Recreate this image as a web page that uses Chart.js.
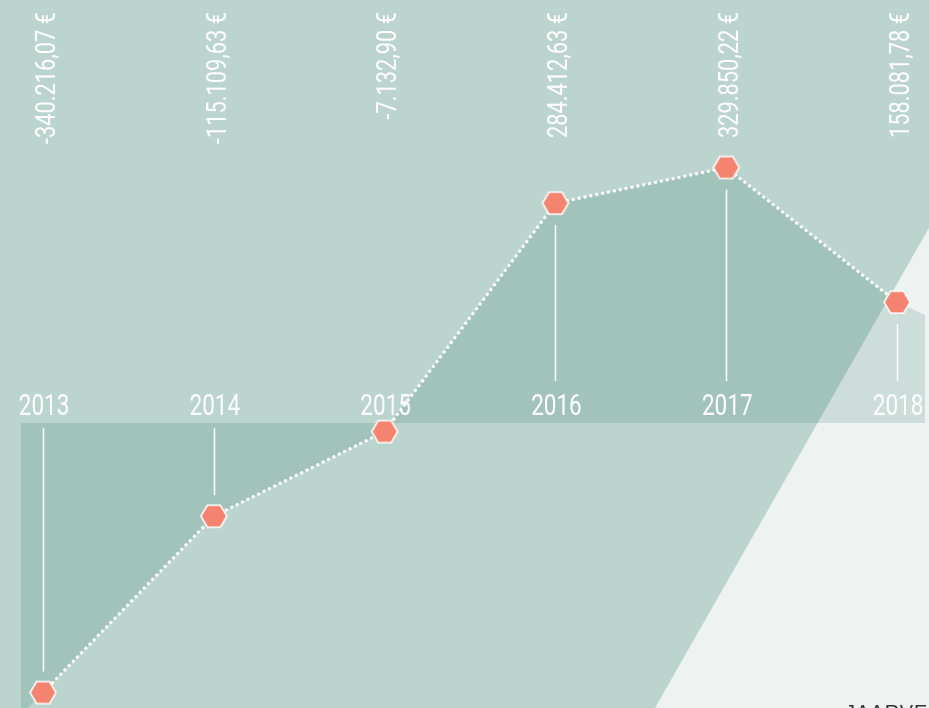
<!DOCTYPE html>
<html>
<head>
<meta charset="utf-8">
<script src="https://cdn.jsdelivr.net/npm/chart.js@4/dist/chart.umd.min.js"></script>
<style>
    html, body { margin: 0; padding: 0; overflow: hidden; background: #bbd4cd; }
    .wrapper { position: relative; width: 929px; height: 708px; overflow: hidden; }
    .footer { position: absolute; left: 845px; top: 701px; font: 20px "Liberation Sans", Arial, sans-serif; color: #333; letter-spacing: 1px; white-space: nowrap; }
</style>
</head>
<body>

<script>

    const years = [2013, 2014, 2015, 2016, 2017, 2018]
    const results = [-340216.07, -115109.63, -7132.90, 284412.63, 329850.22, 158081.78]
    const resultLabels = ["-340.216,07 €", "-115.109,63 €", "-7.132,90 €", "284.412,63 €", "329.850,22 €", "158.081,78 €"]

    // where the shaded area is cut off at the left and right edge
    const fillEdgeYears = [2012.871, 2018.164]
    const fillEdgeValues = [-368800, 141700]

    const salmon = '#f4846f'
    const labelFont = 'Roboto, "Liberation Sans", sans-serif'

    function hexagon() {
        const c = document.createElement('canvas')
        c.width = 30
        c.height = 26
        const g = c.getContext('2d')
        g.beginPath()
        g.moveTo(2, 13)
        g.lineTo(8.5, 2)
        g.lineTo(21.5, 2)
        g.lineTo(28, 13)
        g.lineTo(21.5, 24)
        g.lineTo(8.5, 24)
        g.closePath()
        g.fillStyle = salmon
        g.fill()
        g.strokeStyle = '#ffffff'
        g.lineWidth = 1.5
        g.stroke()
        return c
    }

    const fillData = [{x: fillEdgeYears[0], y: fillEdgeValues[0]}]
        .concat(years.map((y, i) => ({x: y, y: results[i]})))
        .concat([{x: fillEdgeYears[1], y: fillEdgeValues[1]}])

    // condensed text: the installed fonts have no narrow cut, so squeeze horizontally
    function narrowText(ctx, text, x, y, angle, align, squeeze) {
        ctx.save()
        ctx.translate(x, y)
        ctx.rotate(angle)
        ctx.scale(squeeze, 1)
        ctx.textAlign = align
        ctx.textBaseline = 'middle'
        ctx.fillText(text, 0, 0)
        ctx.restore()
    }

    const decor = {
        id: 'decor',
        beforeDatasetsDraw(chart) {
            const {ctx, width, height} = chart
            ctx.save()
            ctx.fillStyle = '#eef2f1'
            ctx.beginPath()
            ctx.moveTo(width * 0.705, height)
            ctx.lineTo(width * 1.14, 0)
            ctx.lineTo(width, 0)
            ctx.lineTo(width, height)
            ctx.closePath()
            ctx.fill()
            ctx.restore()
        },
        afterDatasetDraw(chart, args) {
            if (args.index !== 1) return
            const {ctx} = chart
            const x = chart.scales.x
            const y = chart.scales.y
            const zero = y.getPixelForValue(0)
            ctx.save()
            ctx.strokeStyle = '#ffffff'
            ctx.lineWidth = 1.5
            years.forEach((yr, i) => {
                const px = Math.round(x.getPixelForValue(yr)) + 0.5
                const py = y.getPixelForValue(results[i])
                let top, bottom
                if (results[i] >= 0) { top = py + 22; bottom = 381 }
                else { top = zero + 2; bottom = py - 21 }
                if (bottom > top) {
                    ctx.beginPath()
                    ctx.moveTo(px, top)
                    ctx.lineTo(px, bottom)
                    ctx.stroke()
                }
            })
            ctx.fillStyle = '#ffffff'
            ctx.font = '30px ' + labelFont
            years.forEach(yr => narrowText(ctx, String(yr), x.getPixelForValue(yr) + 1, 407, 0, 'center', 0.75))
            ctx.font = '27px ' + labelFont
            resultLabels.forEach((t, i) => narrowText(ctx, t, x.getPixelForValue(years[i]) + 5, 12, -Math.PI / 2, 'right', 0.81))
            ctx.restore()
        }
    }

    window.addEventListener('load', () => {

        const ctx = document.getElementById('chart')

        new Chart(ctx, {
            type: 'line',
            data: {
                datasets: [
                    {
                        label: 'Resultaat',
                        data: years.map((y, i) => ({x: y, y: results[i]})),
                        borderColor: '#ffffff',
                        borderWidth: 3,
                        borderDash: [3, 3],
                        fill: false,
                        pointStyle: hexagon(),
                        pointRadius: 13,
                        pointHoverRadius: 13,
                        tension: 0
                    },
                    {
                        label: 'fill',
                        data: fillData,
                        borderWidth: 0,
                        borderColor: 'rgba(0,0,0,0)',
                        backgroundColor: 'rgba(20,100,80,0.15)',
                        fill: {value: 3900},
                        pointRadius: 0,
                        tension: 0
                    }
                ]
            },
            options: {
                responsive: false,
                animation: false,
                events: [],
                layout: {padding: 0, autoPadding: false},
                plugins: {legend: {display: false}, tooltip: {enabled: false}},
                scales: {
                    x: {type: 'linear', min: 2012.748, max: 2018.187, display: false},
                    y: {min: -359900, max: 543700, display: false}
                }
            },
            plugins: [decor]
        })
    })

</script>

<section class="wrapper">
    <canvas id="chart" width="929" height="708"></canvas>
    <div class="footer">JAARVERSLAG</div>
</section>

</body>
</html>
